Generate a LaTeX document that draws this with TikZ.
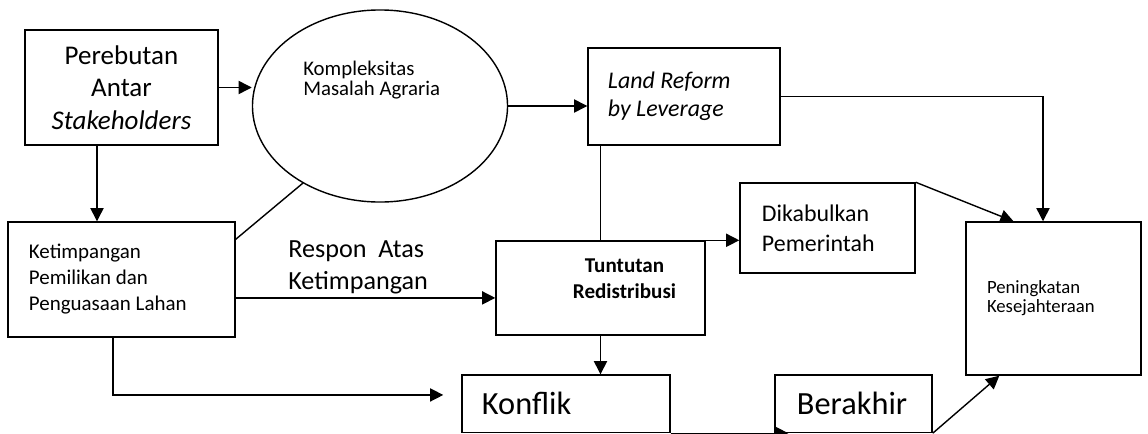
\documentclass[tikz,border=0pt]{standalone}
\usepackage{fontspec}
\setmainfont{Carlito}
\usetikzlibrary{shapes.geometric,arrows.meta}

\begin{document}
\begin{tikzpicture}[x=0.025cm, y=-0.025cm,
  box/.style={draw, line width=1pt, inner ysep=0pt},
  oval/.style={draw, ellipse, line width=1pt, minimum width=6.375cm, minimum height=4.8cm},
  arr/.style={-{Triangle[length=0.33cm,width=0.33cm]}, line width=1pt},
  link/.style={line width=1pt},
]
  \useasboundingbox (0,0) rectangle (1148,433);

  % Left column
  \node[box, minimum width=4.825cm, minimum height=2.875cm, align=center, font=\fontsize{19.2}{23}\selectfont] (perebutan) at (121.5,87.5) {Perebutan\\Antar\\\textit{Stakeholders}};
  \node[box, minimum width=5.675cm, minimum height=2.875cm, inner xsep=0.525cm, text width=4.625cm, align=flush left, font=\fontsize{14.9}{18.5}\selectfont] (ketimp) at (121.5,279.5) {Ketimpangan\\Pemilikan dan\\Penguasaan Lahan};

  % Ellipse
  \node[oval] (komp) at (380,106) {};
  \node[anchor=west, inner sep=0pt, align=flush left, font=\fontsize{14.8}{14}\selectfont] (kompText) at (303,80) {Kompleksitas\\Masalah Agraria};

  % Middle and right
  \node[box, minimum width=4.8cm, minimum height=2.425cm, inner xsep=0.5cm, text width=3.8cm, align=flush left, font=\itshape\fontsize{17}{20}\selectfont] (landref) at (684,96.5) {Land Reform\\by Leverage};
  \node[box, minimum width=5.225cm, minimum height=2.35cm, label={[font=\bfseries\fontsize{15}{18.5}\selectfont, align=center, xshift=0.6cm, yshift=0.22cm]center:Tuntutan\\Redistribusi}] (tuntut) at (600.5,288) {};
  \node[box, minimum width=4.375cm, minimum height=2.25cm, inner xsep=0.55cm, text width=3.275cm, align=flush left, font=\fontsize{17}{21.3}\selectfont] (dikab) at (827.5,228) {Dikabulkan\\Pemerintah};
  \node[box, minimum width=4.375cm, minimum height=3.825cm, inner xsep=0.525cm, text width=3.325cm, align=flush left, font=\fontsize{13.3}{13.5}\selectfont] (pening) at (1053.5,298.5) {Peningkatan\\Kesejahteraan};
  \node[box, minimum width=5.2cm, minimum height=1.4375cm, inner xsep=0.5cm, text width=4.2cm, align=flush left, font=\fontsize{23}{26}\selectfont] (konflik) at (566,403.75) {Konflik};
  \node[box, minimum width=3.925cm, minimum height=1.4375cm, inner xsep=0.55cm, text width=2.825cm, align=flush left, font=\fontsize{23}{26}\selectfont] (berakhir) at (853.5,403.75) {Berakhir};

  % Edge label
  \node[anchor=west, inner sep=0pt, align=flush left, font=\fontsize{18.6}{22.8}\selectfont] (respon) at (288,267) {Respon\ \ Atas\\Ketimpangan};

  % Helper points
  \coordinate (p1) at ([xshift=-0.6125cm]perebutan.south);
  \coordinate (k1) at ([yshift=-0.46cm]ketimp.east);
  \coordinate (k2) at ([xshift=-0.21cm]ketimp.south);
  \coordinate (k3) at ([xshift=-0.45cm,yshift=0.22cm]konflik.west);

  % Connectors
  \draw[arr] (perebutan.east) -- (perebutan.east -| komp.west);
  \draw[arr] (p1) -- (p1 |- ketimp.north);
  \draw[link] ([yshift=-0.45cm]ketimp.north east) -- (komp.225);
  \draw[arr] (komp.east) -- (komp.east -| landref.west);
  \draw[arr] (landref.east) -| ([xshift=-0.2625cm]pening.north);
  \draw[link] (tuntut.north) -- (tuntut.north |- landref.south);
  \draw[arr] (tuntut.north east) -- (tuntut.north east -| dikab.west);
  \draw[arr] (dikab.north east) -- ([xshift=-1.0cm]pening.north);
  \draw[arr] (k1) -- (k1 -| tuntut.west);
  \draw[arr] (k2) |- (k3);
  \draw[arr] (tuntut.south) -- (tuntut.south |- konflik.north);
  \draw[arr] (konflik.south east) -- ([xshift=0.35cm]berakhir.south west);
  \draw[arr] (berakhir.south east) -- ([xshift=0.85cm]pening.south west);

\end{tikzpicture}
\end{document}
